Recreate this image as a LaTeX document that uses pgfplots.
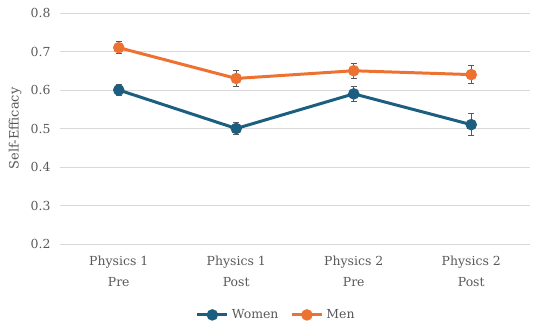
\documentclass[border=0pt]{standalone}
\usepackage{pgfplots}
\pgfplotsset{compat=1.18}
\usepackage{fontspec}
\setmainfont{DejaVu Serif}
\definecolor{women}{HTML}{1B5E80}
\definecolor{men}{HTML}{ED7131}
\definecolor{gridc}{HTML}{D9D9D9}
\definecolor{txt}{HTML}{595959}
\begin{document}
\begin{tikzpicture}
\useasboundingbox (-60bp,-88bp) rectangle (490bp,244bp);
\begin{axis}[
  at={(0,0)}, anchor=south west,
  scale only axis, width=470bp, height=231bp,
  xmin=-0.5, xmax=3.5, ymin=0.2, ymax=0.8,
  ytick={0.2,0.3,...,0.8},
  xtick={0,1,2,3},
  xticklabels={{Physics 1\\Pre},{Physics 1\\Post},{Physics 2\\Pre},{Physics 2\\Post}},
  xticklabel style={align=center, text=txt, font=\fontsize{12.5}{21}\selectfont, yshift=-9pt},
  yticklabel style={text=txt, font=\fontsize{12.5}{14}\selectfont, xshift=-6pt},
  /pgf/number format/assume math mode=true,
  /pgf/number format/fixed, /pgf/number format/precision=1, /pgf/number format/fixed zerofill,
  xmajorgrids=false, ymajorgrids=true, grid style={draw=gridc, line width=0.8pt},
  axis line style={draw=none}, tick style={draw=none},
  ylabel={Self-Efficacy},
  every axis y label/.style={at={(axis description cs:-0.0957,0.5)}, anchor=center, rotate=90, text=txt, font=\fontsize{13}{14}\selectfont},
  legend columns=2,
  legend style={at={(0.46,-0.307)}, anchor=center, draw=none, font=\fontsize{12.5}{14}\selectfont, text=txt,
    /tikz/every even column/.append style={column sep=10pt},
    /tikz/every odd column/.append style={column sep=1pt}},
  legend image code/.code={\draw[#1] (0bp,0bp) -- (30bp,0bp); \draw[#1, mark repeat=2, mark phase=2] plot coordinates {(0bp,0bp) (15bp,0bp) (30bp,0bp)};},
  clip=false,
]
\addplot[women, line width=3pt, mark=*, mark size=4.2pt,
  error bars/.cd, y dir=both, y explicit,
  error bar style={txt, line width=0.9pt}, error mark options={rotate=90, mark size=3pt, txt, line width=0.9pt}]
  coordinates {(0,0.60) +- (0,0.014) (1,0.50) +- (0,0.016) (2,0.59) +- (0,0.020) (3,0.51) +- (0,0.028)};
\addlegendentry{Women}
\addplot[men, line width=3pt, mark=*, mark size=4.2pt,
  error bars/.cd, y dir=both, y explicit,
  error bar style={txt, line width=0.9pt}, error mark options={rotate=90, mark size=3pt, txt, line width=0.9pt}]
  coordinates {(0,0.71) +- (0,0.016) (1,0.63) +- (0,0.022) (2,0.65) +- (0,0.019) (3,0.64) +- (0,0.023)};
\addlegendentry{Men}
\end{axis}
\end{tikzpicture}
\end{document}
